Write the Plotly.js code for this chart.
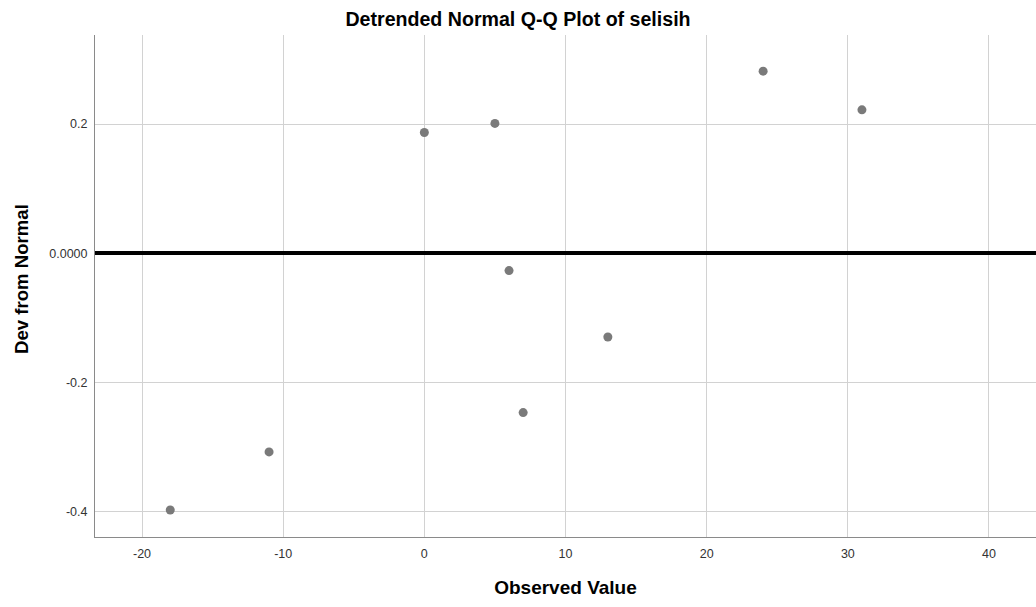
<!DOCTYPE html>
<html>
<head>
<meta charset="utf-8">
<script src="https://cdn.plot.ly/plotly-3.0.1.min.js"></script>
<style>html,body{margin:0;padding:0;background:#fff;}#chart{width:1036px;height:607px;}</style>
</head>
<body>
<div id="chart"></div>
<script>
// Data
const observedValues = [-18, -11, 0, 5, 6, 7, 13, 24, 31];
const devFromNormal = [-0.398, -0.308, 0.187, 0.201, -0.027, -0.247, -0.130, 0.282, 0.222];
const xTickVals = [-20, -10, 0, 10, 20, 30, 40];
const xTickText = ['-20', '-10', '0', '10', '20', '30', '40'];
const yTickVals = [-0.4, -0.2, 0, 0.2];
const yTickText = ['-0.4', '-0.2', '0.0000', '0.2'];

const font = 'Liberation Sans, Arial, sans-serif';

const trace = {
  x: observedValues,
  y: devFromNormal,
  type: 'scatter',
  mode: 'markers',
  marker: {size: 9, color: 'rgb(122,122,122)', line: {width: 0}},
  hoverinfo: 'x+y',
  showlegend: false
};

const layout = {
  width: 1036,
  height: 607,
  margin: {l: 95, r: 0, t: 35, b: 70},
  paper_bgcolor: '#ffffff',
  plot_bgcolor: '#ffffff',
  font: {family: font, color: '#222'},
  title: {
    text: '<b>Detrended Normal Q-Q Plot of selisih</b>',
    font: {family: font, size: 19.6, color: '#000'},
    x: 0.5, xref: 'container', xanchor: 'center',
    y: 1 - 19.5 / 607, yref: 'container', yanchor: 'middle'
  },
  xaxis: {
    range: [-23.33, 43.33],
    tickvals: xTickVals,
    ticktext: xTickText,
    tickfont: {family: font, size: 12.5, color: '#333'},
    ticks: 'outside', ticklen: 5, tickcolor: 'rgba(0,0,0,0)',
    showgrid: true, gridcolor: '#d2d2d2', gridwidth: 1,
    zeroline: false,
    showline: true, linecolor: '#8a8a8a', linewidth: 1,
    title: {text: '<b>Observed Value</b>', font: {family: font, size: 19, color: '#000'}, standoff: 20},
    fixedrange: true
  },
  yaxis: {
    range: [-0.4398, 0.338],
    tickvals: yTickVals,
    ticktext: yTickText,
    tickfont: {family: font, size: 12.5, color: '#333'},
    ticks: 'outside', ticklen: 4, tickcolor: 'rgba(0,0,0,0)',
    showgrid: true, gridcolor: '#d2d2d2', gridwidth: 1,
    zeroline: true, zerolinecolor: '#000', zerolinewidth: 4,
    showline: true, linecolor: '#8a8a8a', linewidth: 1,
    fixedrange: true
  },
  annotations: [{
    text: '<b>Dev from Normal</b>',
    font: {family: font, size: 18.6, color: '#000'},
    textangle: -90,
    xref: 'paper', yref: 'paper',
    x: (21 - 95) / 941, y: (537 - 279) / 502,
    xanchor: 'center', yanchor: 'middle',
    showarrow: false
  }]
};

Plotly.newPlot('chart', [trace], layout, {displayModeBar: false, staticPlot: true});
</script>
</body>
</html>
